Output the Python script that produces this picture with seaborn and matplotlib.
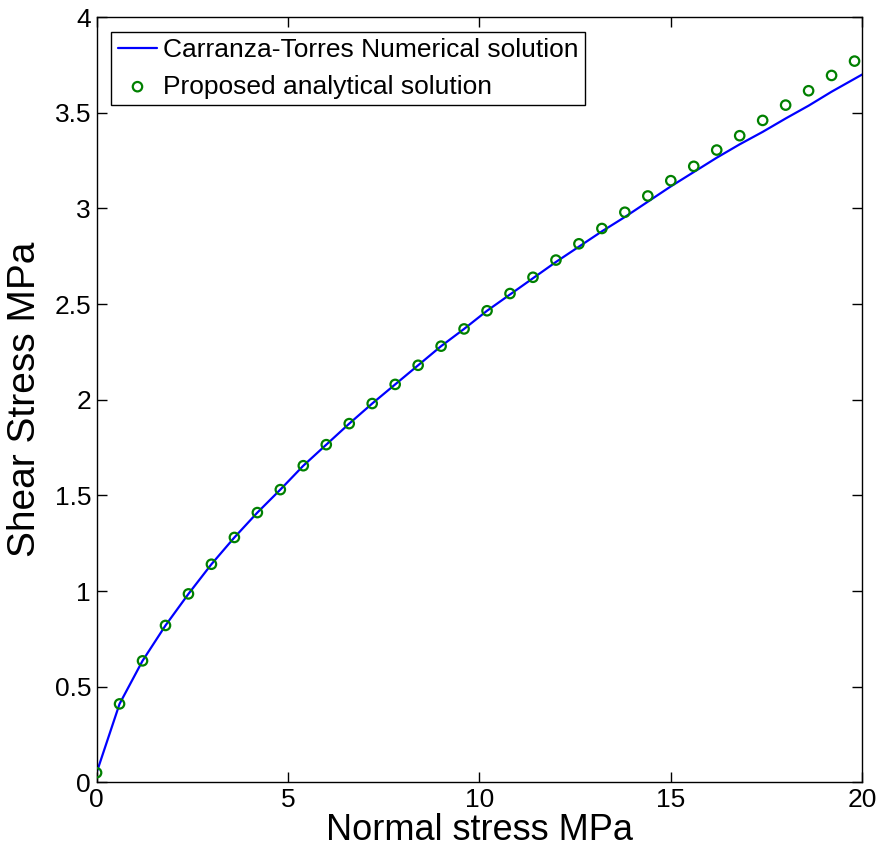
import matplotlib
matplotlib.use("Agg")
import matplotlib.pyplot as plt
import seaborn as sns
import pandas as pd

# Normal stress (MPa) sample positions
normal_stress = [0.0, 0.6, 1.2, 1.8, 2.4, 3.0, 3.6, 4.2, 4.8, 5.4, 6.0, 6.6,
                 7.2, 7.8, 8.4, 9.0, 9.6, 10.2, 10.8, 11.4, 12.0, 12.6, 13.2,
                 13.8, 14.4, 15.0, 15.6, 16.2, 16.8, 17.4, 18.0, 18.6, 19.2, 19.8]

# Proposed analytical solution (circles)
analytical_shear = [0.05, 0.41, 0.635, 0.82, 0.985, 1.14, 1.28, 1.41, 1.53,
                    1.655, 1.765, 1.875, 1.98, 2.08, 2.18, 2.28, 2.37, 2.465,
                    2.555, 2.64, 2.73, 2.815, 2.895, 2.98, 3.065, 3.145, 3.22,
                    3.305, 3.38, 3.46, 3.54, 3.615, 3.695, 3.77]

# Carranza-Torres numerical solution (line)
numerical_stress = [0.0, 0.6, 1.2, 1.8, 2.4, 3.0, 3.6, 4.2, 4.8, 5.4, 6.0, 6.6,
                    7.2, 7.8, 8.4, 9.0, 9.6, 10.2, 10.8, 11.4, 12.0, 12.6, 13.2,
                    13.8, 14.4, 15.0, 15.6, 16.2, 16.8, 17.4, 18.0, 18.6, 19.2, 20.0]
numerical_shear = [0.05, 0.41, 0.635, 0.82, 0.985, 1.14, 1.28, 1.41, 1.53,
                   1.655, 1.765, 1.875, 1.98, 2.08, 2.18, 2.28, 2.37, 2.465,
                   2.55, 2.635, 2.72, 2.80, 2.88, 2.955, 3.035, 3.115, 3.19,
                   3.265, 3.335, 3.40, 3.47, 3.537, 3.61, 3.70]

x_ticks = [0, 5, 10, 15, 20]
y_ticks = [0, 0.5, 1, 1.5, 2, 2.5, 3, 3.5, 4]
y_tick_labels = ['0', '0.5', '1', '1.5', '2', '2.5', '3', '3.5', '4']

sns.set_theme(style="ticks")
plt.rcParams['font.family'] = ['Liberation Sans', 'DejaVu Sans']
plt.rcParams['text.color'] = 'black'
plt.rcParams['axes.labelcolor'] = 'black'

num_df = pd.DataFrame({'x': numerical_stress, 'y': numerical_shear})
ana_df = pd.DataFrame({'x': normal_stress, 'y': analytical_shear})

fig = plt.figure(figsize=(8.78, 8.55), dpi=100)
ax = fig.add_axes([0.110, 0.085, 0.872, 0.895])

sns.lineplot(data=num_df, x='x', y='y', ax=ax, color='#0000ff', linewidth=1.6,
             sort=False, label='Carranza-Torres Numerical solution')
sns.scatterplot(data=ana_df, x='x', y='y', ax=ax, marker='o', s=46,
                facecolors='none', edgecolor='#008000', linewidth=1.6,
                label='Proposed analytical solution', zorder=3)

ax.set_xlim(0, 20)
ax.set_ylim(0, 4)
ax.set_xticks(x_ticks)
ax.set_yticks(y_ticks)
ax.set_xticklabels([str(t) for t in x_ticks])
ax.set_yticklabels(y_tick_labels)

ax.tick_params(direction='in', length=7, width=1, top=True, right=True,
               labelsize=19, colors='black', pad=4)
for side in ax.spines.values():
    side.set_color('black')
    side.set_linewidth(1)

ax.set_xlabel('Normal stress MPa', fontsize=26, labelpad=1)
ax.set_ylabel('Shear Stress MPa', fontsize=28, labelpad=8)

leg = ax.legend(loc='upper left', fontsize=19, fancybox=False, framealpha=1,
                edgecolor='black', handlelength=1.5, handletextpad=0.2,
                borderaxespad=0.55, borderpad=0.25, labelspacing=0.47)
leg.get_frame().set_linewidth(1)

plt.savefig('out.png', dpi=100)
plt.close()
